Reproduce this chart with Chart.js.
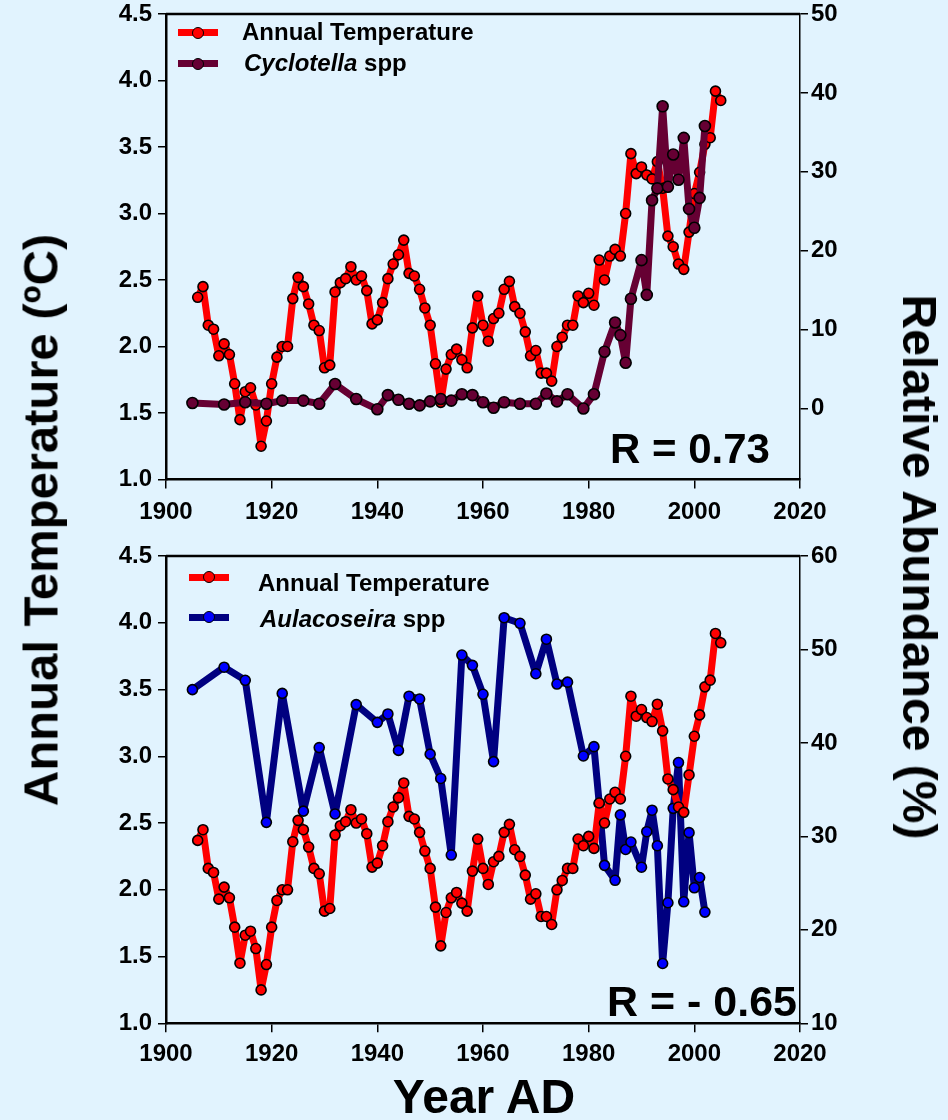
<!DOCTYPE html>
<html><head><meta charset="utf-8">
<script src="https://cdn.jsdelivr.net/npm/chart.js@4"></script>
<style>
html,body{margin:0;padding:0;background:#E1F3FE;}
#wrap{position:relative;width:948px;height:1120px;overflow:hidden;background:#E1F3FE;font-family:"Liberation Sans",Arial,sans-serif;}
.box{position:absolute;left:0;width:948px;}
.t{position:absolute;white-space:nowrap;color:#000;font-weight:bold;line-height:1;}
.lg{position:absolute;height:7px;}
.mk{position:absolute;width:10px;height:10px;border-radius:50%;border:1.5px solid #000;box-sizing:content-box;}
</style></head>
<body><div id="wrap">
<div class="box" style="top:0;height:530px"><canvas id="topc"></canvas></div>
<div class="box" style="top:530px;height:560px"><canvas id="botc"></canvas></div>

<!-- top legend -->
<div class="lg" style="left:178px;top:29px;width:40px;background:#FF0000"></div>
<div class="mk" style="left:192px;top:26.5px;background:#FF0000"></div>
<div class="t" style="left:242px;top:20px;font-size:24px">Annual Temperature</div>
<div class="lg" style="left:178px;top:60px;width:40px;background:#660033"></div>
<div class="mk" style="left:192px;top:57.5px;background:#660033"></div>
<div class="t" style="left:244px;top:51px;font-size:24px"><i>Cyclotella</i> spp</div>

<!-- bottom legend -->
<div class="lg" style="left:189px;top:574px;width:40px;background:#FF0000"></div>
<div class="mk" style="left:203px;top:571px;background:#FF0000"></div>
<div class="t" style="left:258px;top:571px;font-size:24px">Annual Temperature</div>
<div class="lg" style="left:189px;top:614px;width:40px;background:#000080"></div>
<div class="mk" style="left:203px;top:611px;background:#0000FF"></div>
<div class="t" style="left:260px;top:607px;font-size:24px"><i>Aulacoseira</i> spp</div>

<div class="t" style="left:610px;top:428px;font-size:42px">R = 0.73</div>
<div class="t" style="left:607px;top:980px;font-size:43px">R = - 0.65</div>

<div class="t" style="left:41px;top:520px;font-size:49px;transform:translate(-50%,-50%) rotate(-90deg)">Annual Temperature (ºC)</div>
<div class="t" style="left:919px;top:567px;font-size:48px;transform:translate(-50%,-50%) rotate(90deg)">Relative Abundance (%)</div>
<div class="t" style="left:484px;top:1097px;font-size:48px;transform:translate(-50%,-50%)">Year AD</div>
</div>
<script>
const tempYears = [1906,1907,1908,1909,1910,1911,1912,1913,1914,1915,1916,1917,1918,1919,1920,1921,1922,1923,1924,1925,
1926,1927,1928,1929,1930,1931,1932,1933,1934,1935,1936,1937,1938,1939,1940,1941,1942,1943,1944,1945,
1946,1947,1948,1949,1950,1951,1952,1953,1954,1955,1956,1957,1958,1959,1960,1961,1962,1963,1964,1965,
1966,1967,1968,1969,1970,1971,1972,1973,1974,1975,1976,1977,1978,1979,1980,1981,1982,1983,1984,1985,
1986,1987,1988,1989,1990,1991,1992,1993,1994,1995,1996,1997,1998,1999,2000,2001,2002,2003,2004,2005];
const tempVals = [2.37,2.45,2.16,2.13,1.93,2.02,1.94,1.72,1.45,1.66,1.69,1.56,1.25,1.44,1.72,1.92,2.00,2.00,2.36,2.52,
2.45,2.32,2.16,2.12,1.84,1.86,2.41,2.48,2.51,2.60,2.50,2.53,2.42,2.17,2.20,2.33,2.51,2.62,2.69,2.80,
2.55,2.53,2.43,2.29,2.16,1.87,1.58,1.83,1.94,1.98,1.90,1.84,2.14,2.38,2.16,2.04,2.21,2.25,2.43,2.49,
2.30,2.25,2.11,1.93,1.97,1.80,1.80,1.74,2.00,2.07,2.16,2.16,2.38,2.33,2.40,2.31,2.65,2.50,2.68,2.73,
2.68,3.00,3.45,3.30,3.35,3.29,3.26,3.39,3.19,2.83,2.75,2.62,2.58,2.86,3.15,3.31,3.52,3.57,3.92,3.85];

const cycYears = [1905,1911,1915,1919,1922,1926,1929,1932,1936,1940,1942,1944,1946,1948,1950,1952,1954,1956,1958,1960,
1962,1964,1967,1970,1972,1974,1976,1979,1981,1983,1985,1986,1987,1988,1990,1991,1992,1993,1994,1995,
1996,1997,1998,1999,2000,2001,2002];
const cycVals = [0.7,0.5,0.8,0.6,1.0,1.0,0.6,3.1,1.2,-0.1,1.7,1.1,0.6,0.4,0.9,1.2,1.0,1.8,1.7,0.8,
0.1,0.8,0.6,0.6,1.9,0.9,1.8,0.0,1.8,7.2,10.9,9.3,5.8,13.9,18.8,14.4,26.4,27.9,38.3,28.1,
32.2,29.0,34.3,25.3,22.9,26.7,35.8];

const aulYears = [1905,1911,1915,1919,1922,1926,1929,1932,1936,1940,1942,1944,1946,1948,1950,1952,1954,1956,1958,1960,
1962,1964,1967,1970,1972,1974,1976,1979,1981,1982,1983,1985,1986,1987,1988,1990,1991,1992,1993,1994,
1995,1996,1997,1998,1999,2000,2001,2002];
const aulVals = [45.7,48.1,46.7,31.5,45.3,32.7,39.5,32.4,44.1,42.2,43.1,39.2,45.0,44.7,38.8,36.2,28.0,49.4,48.3,45.2,
38.0,53.4,52.8,47.4,51.1,46.3,46.5,38.6,39.6,33.5,26.9,25.3,32.3,28.6,29.4,26.7,30.5,32.8,29.0,16.4,
22.9,33.0,37.9,23.0,30.4,24.5,25.6,21.9];

const xTicks = [1900,1920,1940,1960,1980,2000,2020];
const tempTicks = [1.0,1.5,2.0,2.5,3.0,3.5,4.0,4.5];
const cycTicks = [0,10,20,30,40,50];
const aulTicks = [10,20,30,40,50,60];

const pts = (xs, ys) => xs.map((x,i)=>({x:x, y:ys[i]}));
const FONT = {family:'"Liberation Sans", Arial, sans-serif', size:24, weight:'bold'};

const frame = {
  id:'frame',
  afterDraw(chart){
    const a = chart.chartArea, ctx = chart.ctx;
    ctx.save();
    ctx.strokeStyle = '#000'; ctx.lineWidth = 2.5;
    ctx.beginPath(); ctx.moveTo(a.left, a.top); ctx.lineTo(a.right, a.top); ctx.stroke();
    ctx.restore();
  }
};

function lineDs(data, line, fill, axis, r){
  return {data:data, yAxisID:axis, borderColor:line, backgroundColor:fill, borderWidth:7,
    pointRadius:r, pointBorderColor:'#000', pointBackgroundColor:fill, pointBorderWidth:1.6,
    tension:0, borderJoinStyle:'round', borderCapStyle:'round', clip:false};
}

function fitY(w){ return s=>{ s.width = w; s.paddingTop = 0; s.paddingBottom = 0; }; }

function make(id, datasets, rightMin, rightMax, rightTicks, topPad, xHeight, xPad){
  return new Chart(document.getElementById(id), {
    type:'line',
    data:{datasets:datasets},
    plugins:[frame],
    options:{
      responsive:true, maintainAspectRatio:false, animation:false,
      layout:{padding:{top:topPad, left:0, right:0, bottom:0}},
      plugins:{legend:{display:false}, tooltip:{enabled:false}},
      scales:{
        x:{type:'linear', min:1900, max:2020,
          afterBuildTicks:s=>{s.ticks = xTicks.map(v=>({value:v}));},
          ticks:{font:FONT, color:'#000', padding:xPad, maxRotation:0, callback:v=>String(v)},
          grid:{display:true, drawOnChartArea:false, drawTicks:true, tickLength:9, color:'#000', tickColor:'#000', lineWidth:1.5},
          border:{display:true, color:'#000', width:2.5},
          afterFit:s=>{s.height = xHeight;}},
        y:{type:'linear', position:'left', min:1, max:4.5,
          afterBuildTicks:s=>{s.ticks = tempTicks.map(v=>({value:v}));},
          ticks:{font:FONT, color:'#000', padding:6, callback:v=>Number(v).toFixed(1)},
          grid:{display:true, drawOnChartArea:false, drawTicks:true, tickLength:8, color:'#000', tickColor:'#000', lineWidth:1.5},
          border:{display:true, color:'#000', width:2.5},
          afterFit:fitY(166)},
        y2:{type:'linear', position:'right', min:rightMin, max:rightMax,
          afterBuildTicks:s=>{s.ticks = rightTicks.map(v=>({value:v}));},
          ticks:{font:FONT, color:'#000', padding:3, callback:v=>String(v)},
          grid:{display:true, drawOnChartArea:false, drawTicks:true, tickLength:8, color:'#000', tickColor:'#000', lineWidth:1.5},
          border:{display:true, color:'#000', width:1.5},
          afterFit:fitY(148)}
      }
    }
  });
}

make('topc', [
  lineDs(pts(cycYears, cycVals), '#660033', '#660033', 'y2', 5.5),
  lineDs(pts(tempYears, tempVals), '#FF0000', '#FF0000', 'y', 5)
], -9, 50, cycTicks, 14, 50.5, 9);

make('botc', [
  lineDs(pts(tempYears, tempVals), '#FF0000', '#FF0000', 'y', 5),
  lineDs(pts(aulYears, aulVals), '#000080', '#0000FF', 'y2', 5)
], 10, 60, aulTicks, 26, 66.7, 8);
</script>
</body></html>
